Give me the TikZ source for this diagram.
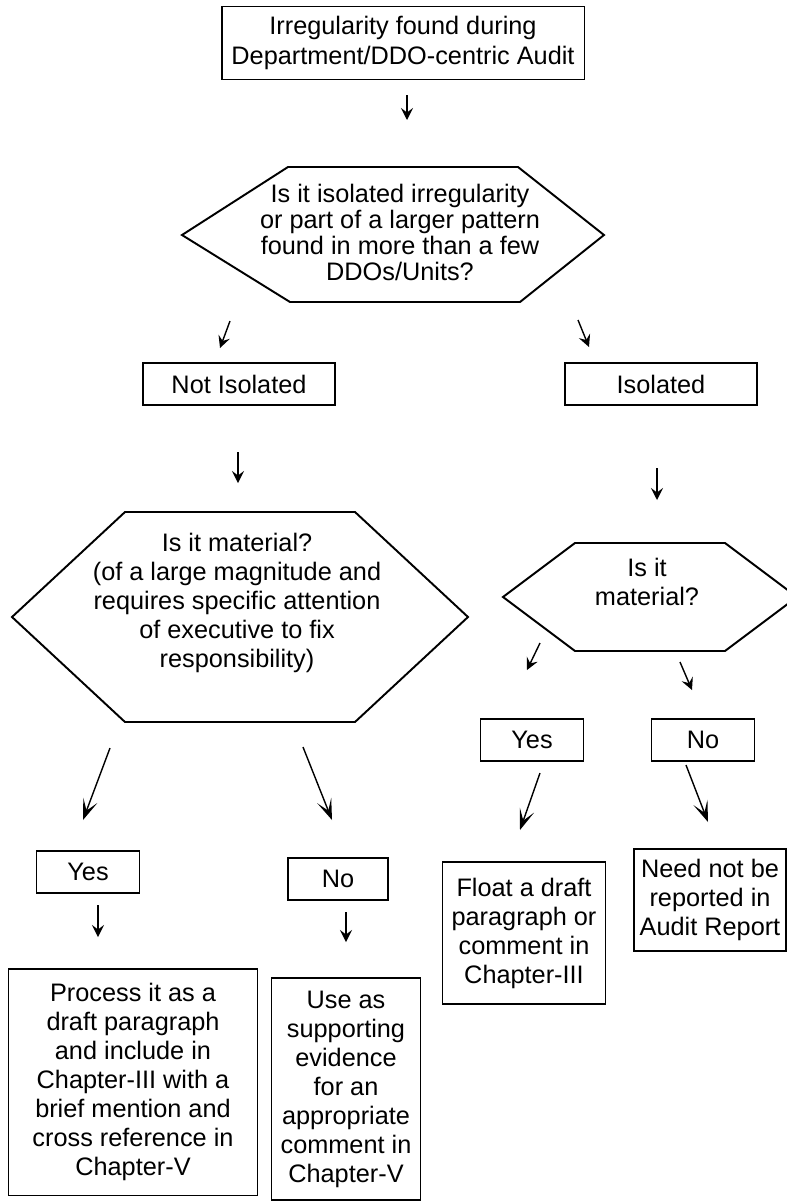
\documentclass[tikz,border=0pt]{standalone}
\usepackage{fontspec}
\setmainfont{Liberation Sans}
\usetikzlibrary{arrows.meta}
\begin{document}
\begin{tikzpicture}[x=0.02cm,y=-0.02cm,
  box/.style={draw,line width=1.1pt,align=center,inner sep=0pt,
    font=\fontsize{14.4}{16.5}\selectfont},
  txt/.style={align=center,inner sep=0pt,font=\fontsize{14.4}{16.5}\selectfont},
  hex/.style={line width=1.1pt,line join=miter},
  arr/.style={line width=0.8pt,-{Stealth[length=2.4mm,width=2.4mm,inset=0.9mm]}},
  bigarr/.style={line width=0.8pt,-{Stealth[length=4.2mm,width=3mm,inset=2.2mm]}}]
  \useasboundingbox (0,0) rectangle (787,1201);
  \begin{scope}
    \clip (0,0) rectangle (787,1201);

    \node[box,minimum width=7.26cm,minimum height=1.46cm,
      font=\fontsize{14.4}{17}\selectfont] (start) at (403,43)
      {Irregularity found during\\Department/DDO-centric Audit};

    \draw[hex] (182,235) -- (288,167) -- (518,167) -- (604,235)
      -- (520,302) -- (290,302) -- cycle;
    \node[txt,font=\fontsize{14.4}{14.8}\selectfont] (pattern) at (400,232)
      {Is it isolated irregularity\\or part of a larger pattern\\found in more than a few\\DDOs/Units?};

    \node[box,minimum width=3.84cm,minimum height=0.84cm] (notiso) at (239,384) {Not Isolated};
    \node[box,minimum width=3.84cm,minimum height=0.84cm] (iso) at (661,384) {Isolated};

    \draw[hex] (12,617) -- (125,512) -- (355,512) -- (468,617)
      -- (355,722) -- (125,722) -- cycle;
    \node[txt] (bigmat) at (237,603)
      {Is it material?\\(of a large magnitude and\\requires specific attention\\of executive to fix\\responsibility)};

    \draw[hex] (503,597) -- (575,543) -- (725,543) -- (797,597)
      -- (725,651) -- (575,651) -- cycle;
    \node[txt,font=\fontsize{14.4}{17}\selectfont] (smallmat) at (647,582) {Is it\\material?};

    \node[box,minimum width=2.06cm,minimum height=0.84cm] (yesl) at (88,872) {Yes};
    \node[box,minimum width=2.0cm,minimum height=0.84cm] (nol) at (338,879) {No};
    \node[box,minimum width=2.06cm,minimum height=0.84cm] (yesr) at (532,740) {Yes};
    \node[box,minimum width=2.06cm,minimum height=0.84cm] (nor) at (703,740) {No};

    \node[box,minimum width=3.26cm,minimum height=2.84cm] (float) at (524,933)
      {Float a draft\\paragraph or\\comment in\\Chapter-III};
    \node[box,minimum width=3.04cm,minimum height=2.04cm] (need) at (710,900)
      {Need not be\\reported in\\Audit Report};
    \node[box,minimum width=4.98cm,minimum height=4.54cm] (process) at (133,1082)
      {Process it as a\\draft paragraph\\and include in\\Chapter-III with a\\brief mention and\\cross reference in\\Chapter-V};
    \node[box,minimum width=2.98cm,minimum height=4.44cm] (use) at (346,1089)
      {Use as\\supporting\\evidence\\for an\\appropriate\\comment in\\Chapter-V};

    \coordinate (a1s) at (407,95);   \coordinate (a1e) at (407,120);
    \coordinate (a2s) at (230,321);  \coordinate (a2e) at (220,348);
    \coordinate (a3s) at (578,320);  \coordinate (a3e) at (589,347);
    \coordinate (a4s) at (238,452);  \coordinate (a4e) at (238,483);
    \coordinate (a5s) at (657,468);  \coordinate (a5e) at (657,500);
    \coordinate (a6s) at (110,748);  \coordinate (a6e) at (83,820);
    \coordinate (a7s) at (303,747);  \coordinate (a7e) at (332,820);
    \coordinate (a8s) at (540,643);  \coordinate (a8e) at (527,670);
    \coordinate (a9s) at (680,662);  \coordinate (a9e) at (692,690);
    \coordinate (a10s) at (540,773); \coordinate (a10e) at (520,830);
    \coordinate (a11s) at (686,765); \coordinate (a11e) at (708,822);
    \coordinate (a12s) at (98,905);  \coordinate (a12e) at (98,937);
    \coordinate (a13s) at (346,912); \coordinate (a13e) at (346,942);

    \foreach \i in {1,2,3,4,5,8,9,12,13}
      \draw[arr] (a\i s) -- (a\i e);
    \foreach \i in {6,7,10,11}
      \draw[bigarr] (a\i s) -- (a\i e);
  \end{scope}
\end{tikzpicture}
\end{document}
